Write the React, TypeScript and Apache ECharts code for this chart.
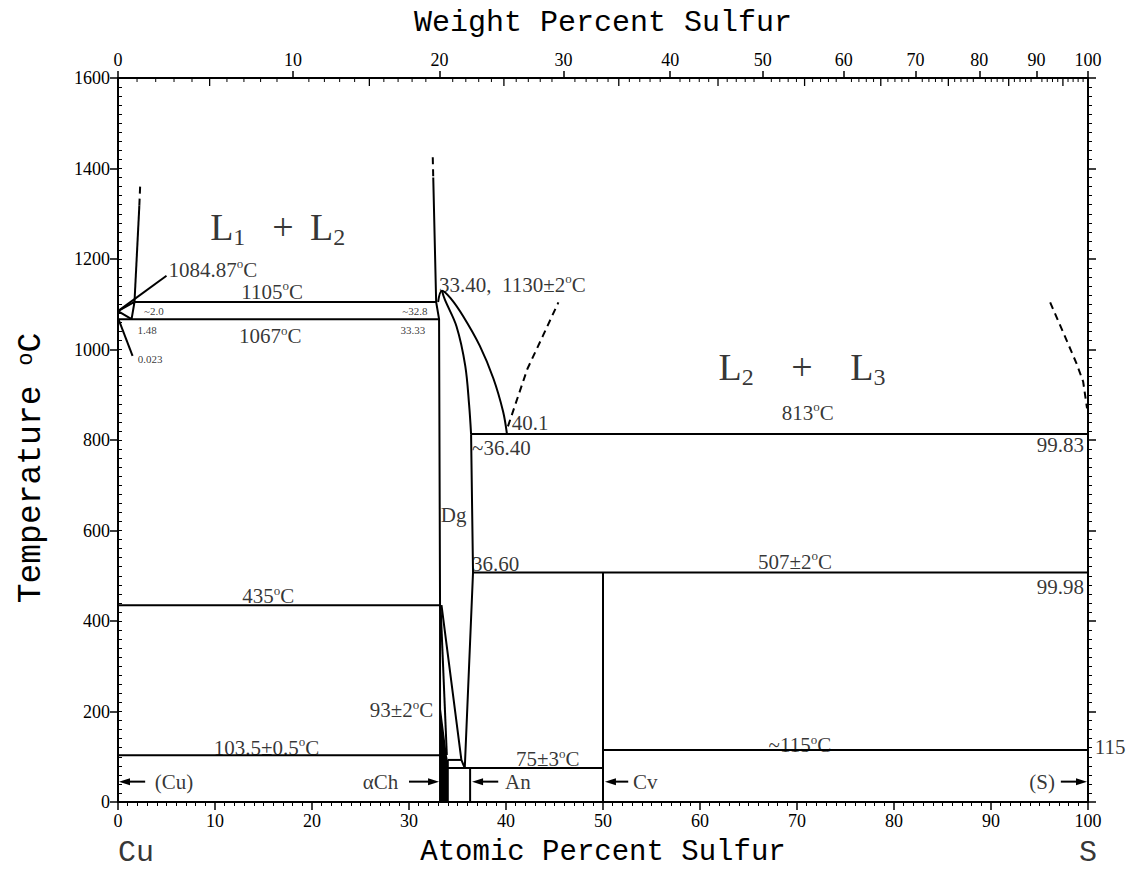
import React, { useEffect, useRef } from 'react';
import * as echarts from 'echarts';

// ---- axes ----
const M_S = 32.06;
const M_CU = 63.546;
const wtToAt = (w: number) =>
  w <= 0 ? 0 : w >= 100 ? 100 : ((w / M_S) / (w / M_S + (100 - w) / M_CU)) * 100;

const weightMajor = [0, 10, 20, 30, 40, 50, 60, 70, 80, 90, 100];
const weightMid = [5, 15, 25, 35, 45, 55, 65, 75, 85, 95];
const weightMinor = [
  1, 2, 3, 4, 6, 7, 8, 9, 11, 12, 13, 14, 16, 17, 18, 19, 21, 22, 23, 24, 26, 27, 28, 29,
  31, 32, 33, 34, 36, 37, 38, 39, 41, 42, 43, 44, 46, 47, 48, 49, 51, 52, 53, 54, 56, 57, 58, 59,
  61, 62, 63, 64, 66, 67, 68, 69, 71, 72, 73, 74, 76, 77, 78, 79, 81, 82, 83, 84, 86, 87, 88, 89,
  91, 92, 93, 94, 96, 97, 98, 99,
];

// ---- phase boundaries: [atomic % S, temperature °C] ----
const cuTriangle = [[1.7, 1105], [0, 1084.87], [1.4, 1067], [1.7, 1105]];
const cuL1Solid = [[1.7, 1105], [2.2, 1318]];
const cuL1Dash = [[2.2, 1318], [2.3, 1370]];
const leader1084 = [[0, 1084.87], [5.0, 1163]];
const leader0023 = [[0.05, 1067], [1.5, 986]];
const mono1105 = [[1.7, 1105], [32.8, 1105]];
const eut1067 = [[0, 1067], [33.1, 1067]];
const l2Solid = [[32.5, 1380], [32.8, 1105], [33.1, 1067], [33.2, 435], [33.2, 0]];
const l2Dash = [[32.45, 1425], [32.5, 1380]];
const liquidusL2 = [[33.0, 1105], [33.4, 1130], [34.3, 1113], [35.6, 1073], [37.3, 1008], [38.7, 936], [39.7, 863], [40.1, 813]];
const dgSolvus = [[33.4, 1130], [33.7, 1110], [34.9, 1051], [35.8, 964], [36.2, 877], [36.4, 813]];
const dgRight = [[36.4, 813], [36.6, 507], [35.75, 75]];
const l3DashLeft = [[40.2, 830], [42.2, 957], [43.8, 1030], [45.4, 1104]];
const l3DashRight = [[96.1, 1104], [97.6, 1030], [98.8, 970], [99.5, 929], [99.9, 870]];
const mono813 = [[36.4, 813], [100, 813]];
const eut507 = [[36.6, 507], [100, 507]];
const eut435 = [[0, 435], [33.2, 435]];
const ch1035 = [[0, 103.5], [33.3, 103.5]];
const chRight = [[33.25, 435], [33.9, 103.5]];
const dgLeft = [[33.35, 435], [35.4, 93], [35.75, 75]];
const dj93 = [[34.0, 93], [35.4, 93]];
const an75 = [[34.0, 75], [50, 75]];
const djLine = [[34.0, 93], [34.0, 0]];
const anLine = [[36.3, 75], [36.3, 0]];
const cvLine = [[50, 507], [50, 0]];
const s115 = [[50, 115], [100, 115]];
const chPoly = [[33.25, 0], [33.25, 214], [33.9, 103.5], [34.0, 93], [34.0, 0]];

const solidLines = [
  cuTriangle, cuL1Solid, leader1084, leader0023, mono1105, eut1067, l2Solid, dgRight,
  mono813, eut507, eut435, ch1035, chRight, dgLeft, dj93, an75, djLine, anLine, cvLine, s115,
];
const curvedLines = [liquidusL2, dgSolvus];
const dashedLines = [cuL1Dash, l2Dash, l3DashLeft, l3DashRight];

// ---- arrows [from, to] ----
const arrows = [
  [[2.8, 45], [0.1, 45]],
  [[30.0, 45], [33.1, 45]],
  [[39.2, 45], [36.5, 45]],
  [[52.6, 45], [50.2, 45]],
  [[97.2, 45], [99.9, 45]],
];

// ---- annotations: [text, at%, °C, align, kind] ----
const annotations: [string, number, number, string, string][] = [
  ['1084.87{sup|o}C', 5.2, 1176, 'left', 'n'],
  ['1105{sup|o}C', 15.9, 1128, 'center', 'n'],
  ['1067{sup|o}C', 15.7, 1029, 'center', 'n'],
  ['~2.0', 3.7, 1084, 'center', 's'],
  ['1.48', 3.0, 1042, 'center', 's'],
  ['0.023', 3.3, 979, 'center', 's'],
  ['~32.8', 30.6, 1084, 'center', 's'],
  ['33.33', 30.4, 1042, 'center', 's'],
  ['33.40,  1130±2{sup|o}C', 33.1, 1143, 'left', 'n'],
  ['40.1', 40.6, 837, 'left', 'n'],
  ['~36.40', 36.5, 782, 'left', 'n'],
  ['Dg', 34.6, 634, 'center', 'n'],
  ['36.60', 36.5, 525, 'left', 'n'],
  ['813{sup|o}C', 71.1, 860, 'center', 'n'],
  ['99.83', 99.6, 789, 'right', 'n'],
  ['507±2{sup|o}C', 69.8, 531, 'center', 'n'],
  ['99.98', 99.6, 476, 'right', 'n'],
  ['435{sup|o}C', 15.5, 455, 'center', 'n'],
  ['93±2{sup|o}C', 32.5, 203, 'right', 'n'],
  ['103.5±0.5{sup|o}C', 15.3, 120, 'center', 'n'],
  ['75±3{sup|o}C', 44.3, 94, 'center', 'n'],
  ['~115{sup|o}C', 70.3, 125, 'center', 'n'],
  ['115', 100.7, 122, 'left', 'n'],
  ['(Cu)', 3.8, 45, 'left', 'n'],
  ['αCh', 28.9, 45, 'right', 'n'],
  ['An', 39.9, 45, 'left', 'n'],
  ['Cv', 53.1, 45, 'left', 'n'],
  ['(S)', 96.6, 45, 'right', 'n'],
  ['{big|L}{bsub|1}', 9.5, 1270, 'left', 'b'],
  ['{big|+}', 17.0, 1270, 'center', 'b'],
  ['{big|L}{bsub|2}', 19.8, 1270, 'left', 'b'],
  ['{big|L}{bsub|2}', 61.9, 962, 'left', 'b'],
  ['{big|+}', 70.5, 962, 'center', 'b'],
  ['{big|L}{bsub|3}', 75.5, 962, 'left', 'b'],
];

const endLabels: [string, number, string][] = [
  ['Cu', 0, 'left'],
  ['S', 100, 'center'],
];

const SERIF = 'Liberation Serif';
const MONO = 'Liberation Mono';
const BLACK = '#000';

const richSup = {
  sup: { fontSize: 13, lineHeight: 13, fontFamily: SERIF, color: BLACK, verticalAlign: 'top' as const },
  big: { fontSize: 38, fontFamily: SERIF, color: BLACK, verticalAlign: 'middle' as const, lineHeight: 44 },
  bsub: { fontSize: 24, fontFamily: SERIF, color: BLACK, verticalAlign: 'bottom' as const, lineHeight: 30, padding: [26, 0, 0, 0] },
};

export default function App() {
  const ref = useRef<HTMLDivElement>(null);

  useEffect(() => {
    if (!ref.current) return;
    const chart = echarts.init(ref.current, undefined, { renderer: 'svg' });

    const lineSeries = (data: number[][], opts: any = {}) => ({
      type: 'line',
      data,
      xAxisIndex: 0,
      yAxisIndex: 0,
      symbol: 'none',
      showSymbol: false,
      silent: true,
      clip: false,
      lineStyle: { color: BLACK, width: 2, ...(opts.lineStyle || {}) },
      smooth: opts.smooth || false,
      z: 3,
    });

    // top-axis inward ticks (minor every 1 wt%, medium every 5 wt%)
    const topTicks = [
      ...weightMinor.map((w) => [wtToAt(w), 4]),
      ...weightMid.map((w) => [wtToAt(w), 8]),
    ];

    const axisLine = { show: true, onZero: false, lineStyle: { color: BLACK, width: 2 } };

    const option: any = {
      animation: false,
      backgroundColor: '#fff',
      textStyle: { fontFamily: SERIF },
      grid: { left: 118, right: 43, top: 78, bottom: 64, containLabel: false },
      xAxis: [
        {
          type: 'value',
          position: 'bottom',
          min: 0,
          max: 100,
          interval: 10,
          axisLine,
          axisTick: { length: 8, lineStyle: { color: BLACK, width: 1.5 } },
          minorTick: { show: true, splitNumber: 10, length: 4, lineStyle: { color: BLACK, width: 1 } },
          axisLabel: { fontFamily: SERIF, fontSize: 18, color: BLACK, margin: 10 },
          splitLine: { show: false },
          name: 'Atomic Percent Sulfur',
          nameLocation: 'middle',
          nameGap: 36,
          nameTextStyle: { fontFamily: MONO, fontSize: 29, color: BLACK },
        },
        {
          type: 'value',
          position: 'top',
          min: 0,
          max: 100,
          axisLine,
          axisTick: {
            customValues: weightMajor.map(wtToAt),
            length: 7,
            lineStyle: { color: BLACK, width: 1.5 },
          },
          axisLabel: {
            customValues: weightMajor.map(wtToAt),
            fontFamily: SERIF,
            fontSize: 18,
            color: BLACK,
            margin: 9,
            formatter: (v: number) => {
              const w = weightMajor.find((x) => Math.abs(wtToAt(x) - v) < 1e-6);
              return w === undefined ? '' : String(w);
            },
          },
          splitLine: { show: false },
          name: 'Weight Percent Sulfur',
          nameLocation: 'middle',
          nameGap: 40,
          nameTextStyle: { fontFamily: MONO, fontSize: 30, color: BLACK },
        },
      ],
      yAxis: [
        {
          type: 'value',
          position: 'left',
          min: 0,
          max: 1600,
          interval: 200,
          axisLine,
          axisTick: { show: true, length: 8, lineStyle: { color: BLACK, width: 1.5 } },
          axisLabel: {
            fontFamily: SERIF,
            fontSize: 18,
            color: BLACK,
            margin: 8,
            formatter: (v: number) => String(v),
          },
          splitLine: { show: false },
          name: 'Temperature {sup|o}C',
          nameLocation: 'middle',
          nameGap: 70,
          nameRotate: 90,
          nameTextStyle: {
            fontFamily: MONO,
            fontSize: 33,
            color: BLACK,
            padding: [0, 56, 0, 0],
            rich: { sup: { fontFamily: MONO, fontSize: 22, color: BLACK, verticalAlign: 'top' } },
          },
        },
        {
          type: 'value',
          position: 'left',
          min: 0,
          max: 1600,
          interval: 20,
          axisLine: { show: false, onZero: false },
          axisTick: { show: true, inside: true, length: 4, lineStyle: { color: BLACK, width: 1 } },
          axisLabel: { show: false },
          splitLine: { show: false },
        },
        {
          type: 'value',
          position: 'right',
          min: 0,
          max: 1600,
          interval: 200,
          axisLine,
          axisTick: { show: true, length: 8, lineStyle: { color: BLACK, width: 1.5 } },
          minorTick: { show: true, splitNumber: 10, length: 4, lineStyle: { color: BLACK, width: 1 } },
          axisLabel: { show: false },
          splitLine: { show: false },
        },
      ],
      series: [
        ...solidLines.map((d) => lineSeries(d)),
        ...curvedLines.map((d) => lineSeries(d, { smooth: 0.35 })),
        ...dashedLines.map((d) => lineSeries(d, { lineStyle: { type: [7, 5] } })),
        {
          type: 'custom',
          silent: true,
          clip: false,
          data: [0],
          z: 4,
          renderItem: (params: any, api: any) => ({
            type: 'polygon',
            shape: { points: chPoly.map((p) => api.coord(p)) },
            style: { fill: BLACK },
          }),
        },
        {
          // top axis inward ticks
          type: 'custom',
          silent: true,
          clip: false,
          data: topTicks,
          z: 4,
          renderItem: (params: any, api: any) => {
            const p = api.coord([api.value(0), 1600]);
            const len = api.value(1);
            return {
              type: 'line',
              shape: { x1: p[0], y1: p[1], x2: p[0], y2: p[1] + len },
              style: { stroke: BLACK, lineWidth: len > 5 ? 1.3 : 1 },
            };
          },
        },
        {
          // arrows
          type: 'custom',
          silent: true,
          clip: false,
          data: arrows.map(([a, b]) => [a[0], a[1], b[0], b[1]]),
          z: 4,
          renderItem: (params: any, api: any) => {
            const a = api.coord([api.value(0), api.value(1)]);
            const b = api.coord([api.value(2), api.value(3)]);
            const dir = b[0] > a[0] ? 1 : -1;
            const headLen = 11;
            const headHalf = 3.5;
            return {
              type: 'group',
              children: [
                {
                  type: 'line',
                  shape: { x1: a[0], y1: a[1], x2: b[0] - dir * headLen * 0.6, y2: b[1] },
                  style: { stroke: BLACK, lineWidth: 2 },
                },
                {
                  type: 'polygon',
                  shape: {
                    points: [
                      [b[0], b[1]],
                      [b[0] - dir * headLen, b[1] - headHalf],
                      [b[0] - dir * headLen, b[1] + headHalf],
                    ],
                  },
                  style: { fill: BLACK },
                },
              ],
            };
          },
        },
        {
          type: 'scatter',
          silent: true,
          clip: false,
          symbolSize: 1,
          itemStyle: { color: 'rgba(0,0,0,0)' },
          z: 5,
          label: { show: true, color: BLACK, fontFamily: SERIF, rich: richSup },
          data: annotations.map(([text, x, y, align, kind]) => ({
            value: [x, y],
            label: {
              show: true,
              formatter: text,
              position: 'inside',
              align,
              verticalAlign: 'middle',
              fontSize: kind === 's' ? 11 : kind === 'b' ? 38 : 21,
              lineHeight: kind === 's' ? 13 : kind === 'b' ? 44 : 25,
              fontFamily: SERIF,
              color: BLACK,
            },
          })),
        },
        {
          type: 'scatter',
          silent: true,
          clip: false,
          symbolSize: 1,
          itemStyle: { color: 'rgba(0,0,0,0)' },
          data: endLabels.map(([text, x, align]) => ({
            value: [x, 0],
            label: {
              show: true,
              formatter: text,
              position: 'inside',
              align,
              verticalAlign: 'middle',
              offset: [0, 51],
              fontSize: 30,
              fontFamily: MONO,
              color: BLACK,
            },
          })),
        },
      ],
    };

    chart.setOption(option);
    return () => chart.dispose();
  }, []);

  return (
    <div
      ref={ref}
      style={{ position: 'absolute', left: 0, top: 0, width: 1131, height: 872, background: '#fff' }}
    />
  );
}
